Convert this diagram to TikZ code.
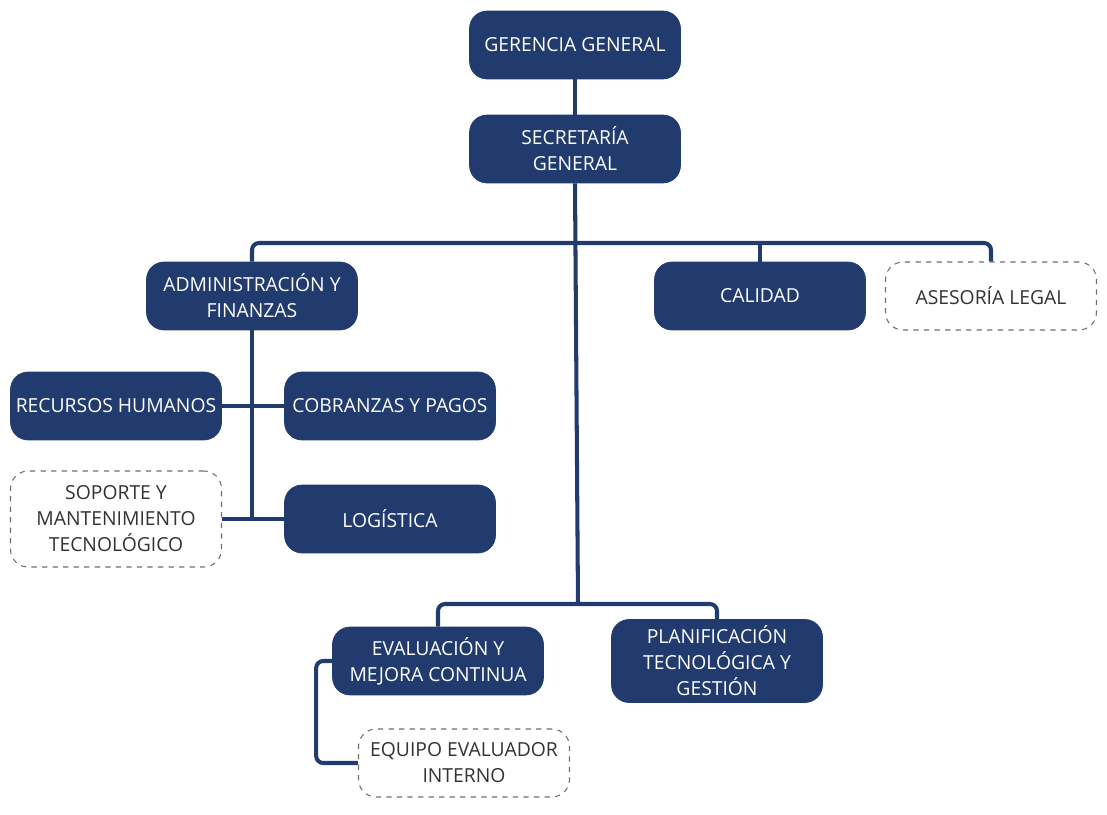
\documentclass[tikz,border=0pt]{standalone}
\usepackage{fontspec}
\setmainfont{Open Sans}
\definecolor{navy}{HTML}{213B6F}
\definecolor{dashgray}{HTML}{6E6E6E}
\definecolor{txtgray}{HTML}{333333}
\tikzset{
  unit/.style={rectangle, rounded corners=10pt, fill=navy, draw=navy, text=white,
    minimum width=4.22cm, minimum height=1.36cm, align=center,
    font=\fontsize{11}{14.8}\selectfont, inner sep=2pt},
  extunit/.style={rectangle, rounded corners=10pt, draw=dashgray, dashed, line width=0.6pt,
    fill=white, text=txtgray, minimum width=4.22cm, minimum height=1.36cm, align=center,
    font=\fontsize{11}{14.8}\selectfont, inner sep=2pt},
  link/.style={draw=navy, line width=2.3pt, rounded corners=4pt}
}
\begin{document}
\begin{tikzpicture}[x=0.02cm, y=-0.02cm]
  \useasboundingbox (0,0) rectangle (1107,815);

  \node[unit] (gerencia) at (575,45) {GERENCIA GENERAL};
  \node[unit] (secretaria) at (575,149) {SECRETARÍA\\GENERAL};
  \node[unit] (admin) at (252,296) {ADMINISTRACIÓN Y\\FINANZAS};
  \node[unit] (calidad) at (760,296) {CALIDAD};
  \node[extunit] (asesoria) at (991,296) {ASESORÍA LEGAL};
  \node[unit] (rrhh) at (116,406) {RECURSOS HUMANOS};
  \node[unit] (cobranzas) at (390,406) {COBRANZAS Y PAGOS};
  \node[extunit, minimum height=1.92cm] (soporte) at (116,519) {SOPORTE Y\\MANTENIMIENTO\\TECNOLÓGICO};
  \node[unit] (logistica) at (390,519) {LOGÍSTICA};
  \node[unit] (evaluacion) at (438,661) {EVALUACIÓN Y\\MEJORA CONTINUA};
  \node[unit, minimum height=1.66cm] (planif) at (717,661) {PLANIFICACIÓN\\TECNOLÓGICA Y\\GESTIÓN};
  \node[extunit] (equipo) at (464,763) {EQUIPO EVALUADOR\\INTERNO};

  \coordinate (jtop) at (575,243);
  \coordinate (jbot) at (578,604);

  \draw[link] (gerencia) -- (secretaria);
  \draw[link] (secretaria.south) -- (jbot);
  \draw[link] (admin.north) |- (jtop) -| (asesoria.north);
  \draw[link] (calidad.north) -- (calidad.north |- jtop);
  \draw[link] (admin.south) -- (admin.south |- logistica.west);
  \draw[link] (rrhh.east) -- (cobranzas.west);
  \draw[link] (soporte.east) -- (logistica.west);
  \draw[link] (evaluacion.north) |- (jbot) -| (planif.north);
  \draw[link] (evaluacion.west) -- ++(-16,0) |- (equipo.west);
\end{tikzpicture}
\end{document}
